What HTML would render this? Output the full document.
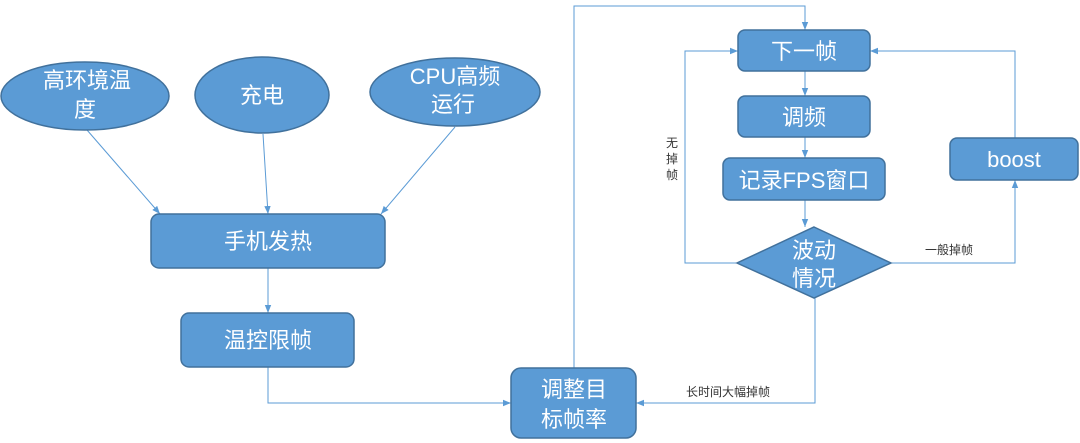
<!DOCTYPE html>
<html><head><meta charset="utf-8"><style>
html,body{margin:0;padding:0;background:#fff;}
svg{display:block;font-family:"Liberation Sans","Noto Sans CJK SC",sans-serif;}
.n{fill:#5b9bd5;stroke:#41719c;stroke-width:1.5;}
.t{fill:#fff;font-size:22px;text-anchor:middle;}
.l{fill:none;stroke:#5b9bd5;stroke-width:1;}
.lb{fill:#333;font-size:12px;}
</style></head><body>
<svg width="1080" height="443" viewBox="0 0 1080 443">
<defs><marker id="a" viewBox="0 0 10 10" refX="10" refY="5" markerWidth="8" markerHeight="8" orient="auto"><path d="M0,1 L10,5 L0,9z" fill="#5b9bd5"/></marker></defs>
<line class="l" x1="87" y1="130" x2="160" y2="214" marker-end="url(#a)"/>
<line class="l" x1="263" y1="134" x2="268" y2="214" marker-end="url(#a)"/>
<line class="l" x1="455" y1="127" x2="381" y2="214" marker-end="url(#a)"/>
<line class="l" x1="268" y1="268" x2="268" y2="313" marker-end="url(#a)"/>
<polyline class="l" points="268,367 268,403 511,403" marker-end="url(#a)"/>
<polyline class="l" points="574,368 574,6 805,6 805,30" marker-end="url(#a)"/>
<line class="l" x1="805" y1="71" x2="805" y2="96" marker-end="url(#a)"/>
<line class="l" x1="805" y1="137" x2="805" y2="158" marker-end="url(#a)"/>
<line class="l" x1="805" y1="200" x2="805" y2="227" marker-end="url(#a)"/>
<polyline class="l" points="737,263 685,263 685,51 738,51" marker-end="url(#a)"/>
<polyline class="l" points="891,263 1015,263 1015,180" marker-end="url(#a)"/>
<polyline class="l" points="1015,138 1015,51 870,51" marker-end="url(#a)"/>
<polyline class="l" points="815,298 815,403 636,403" marker-end="url(#a)"/>
<ellipse class="n" cx="85" cy="96" rx="84" ry="34"/>
<text class="t" x="87" y="88">高环境温</text><text class="t" x="85" y="117">度</text>
<ellipse class="n" cx="262" cy="95" rx="67" ry="38"/>
<text class="t" x="262" y="103">充电</text>
<ellipse class="n" cx="455" cy="92" rx="85" ry="34"/>
<text class="t" x="455" y="84">CPU高频</text><text class="t" x="453" y="112">运行</text>
<rect class="n" x="151" y="214" width="234" height="54" rx="8"/>
<text class="t" x="268" y="249">手机发热</text>
<rect class="n" x="181" y="313" width="173" height="54" rx="8"/>
<text class="t" x="268" y="348">温控限帧</text>
<rect class="n" x="511" y="368" width="125" height="70" rx="10"/>
<text class="t" x="574" y="397">调整目</text><text class="t" x="574" y="427">标帧率</text>
<rect class="n" x="738" y="30" width="132" height="41" rx="7"/>
<text class="t" x="804" y="59">下一帧</text>
<rect class="n" x="738" y="96" width="132" height="41" rx="7"/>
<text class="t" x="804" y="125">调频</text>
<rect class="n" x="723" y="158" width="162" height="42" rx="7"/>
<text class="t" x="804" y="188">记录FPS窗口</text>
<polygon class="n" points="814,227 891,263 814,298 737,263"/>
<text class="t" x="814" y="258">波动</text><text class="t" x="814" y="286">情况</text>
<rect class="n" x="950" y="138" width="128" height="42" rx="7"/>
<text class="t" x="1014" y="167">boost</text>
<text class="lb" x="666" y="147">无</text><text class="lb" x="666" y="163">掉</text><text class="lb" x="666" y="179">帧</text>
<text class="lb" x="925" y="254">一般掉帧</text>
<text class="lb" x="686" y="396">长时间大幅掉帧</text>
</svg>
</body></html>
